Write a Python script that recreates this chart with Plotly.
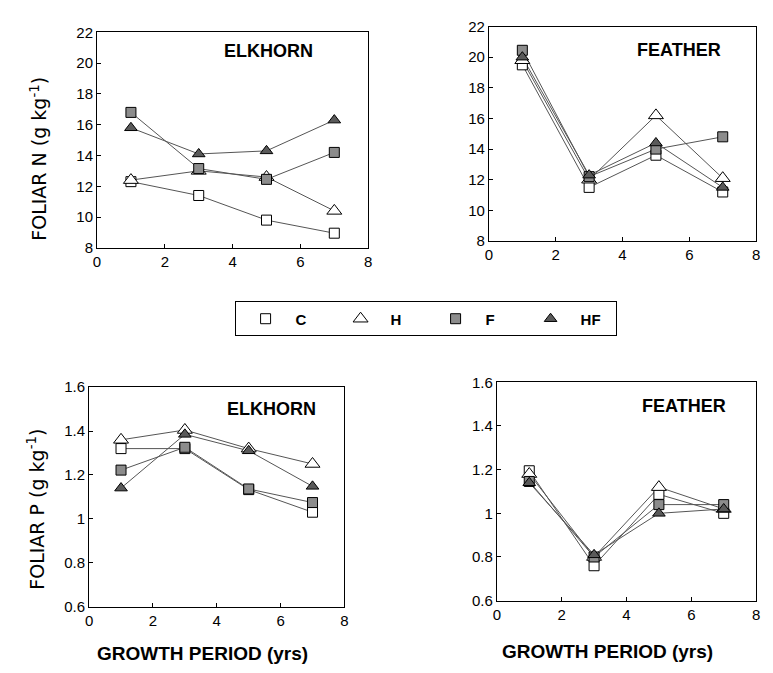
import plotly.graph_objects as go

years = [1, 3, 5, 7]
series = ["C", "H", "F", "HF"]

# Foliar N (g/kg)
elk_N = {
    "C": [12.3, 11.4, 9.8, 8.95],
    "H": [12.4, 13.0, 12.6, 10.4],
    "F": [16.8, 13.15, 12.45, 14.2],
    "HF": [15.8, 14.1, 14.3, 16.3],
}
fea_N = {
    "C": [19.5, 11.5, 13.6, 11.2],
    "H": [19.8, 12.0, 16.2, 12.1],
    "F": [20.45, 12.2, 14.0, 14.8],
    "HF": [20.0, 12.3, 14.4, 11.5],
}
# Foliar P (g/kg)
elk_P = {
    "C": [1.32, 1.32, 1.133, 1.03],
    "H": [1.36, 1.405, 1.32, 1.25],
    "F": [1.222, 1.326, 1.136, 1.074],
    "HF": [1.14, 1.385, 1.31, 1.148],
}
fea_P = {
    "C": [1.195, 0.76, 1.087, 1.0],
    "H": [1.18, 0.80, 1.12, 1.02],
    "F": [1.146, 0.80, 1.04, 1.04],
    "HF": [1.14, 0.81, 1.0, 1.02],
}

styles = {
    "C": dict(symbol="square", color="white", size=10),
    "H": dict(symbol="triangle-up", color="white", size=13),
    "F": dict(symbol="square", color="#8c8c8c", size=10),
    "HF": dict(symbol="triangle-up", color="#5a5a5a", size=11),
}

W, H = 773, 673
def xd(a, b):
    return [a / W, b / W]
def yd(top, bot):
    return [1 - bot / H, 1 - top / H]

fig = go.Figure()
panels = [
    (elk_N, "x", "y", True),
    (fea_N, "x2", "y2", False),
    (elk_P, "x3", "y3", False),
    (fea_P, "x4", "y4", False),
]
# connecting lines first
for data, xa, ya, show in panels:
    for s in series:
        fig.add_trace(go.Scatter(
            x=years, y=data[s], xaxis=xa, yaxis=ya, name=s,
            mode="lines", showlegend=False, hoverinfo="skip",
            line=dict(color="#555555", width=1),
        ))
# markers on top
for data, xa, ya, show in panels:
    for s in series:
        st = styles[s]
        fig.add_trace(go.Scatter(
            x=years, y=data[s], xaxis=xa, yaxis=ya, name=s,
            mode="markers", showlegend=show,
            marker=dict(symbol=st["symbol"], size=st["size"], color=st["color"],
                        line=dict(color="black", width=1)),
        ))

font = dict(family="Liberation Sans, Arial, sans-serif", size=15, color="black")
axcommon = dict(showline=True, linecolor="black", linewidth=1, mirror=True,
                ticks="inside", ticklen=4, tickcolor="black", showgrid=False,
                zeroline=False, tickfont=font, ticklabeloverflow="allow")

fig.update_layout(
    width=W, height=H, margin=dict(l=0, r=0, t=0, b=0),
    paper_bgcolor="white", plot_bgcolor="white",
    font=font,
    xaxis=dict(domain=xd(94, 368), range=[0, 8], dtick=2, anchor="y", **axcommon),
    yaxis=dict(domain=yd(24, 245), range=[8, 22], dtick=2, anchor="x", **axcommon),
    xaxis2=dict(domain=xd(490, 760), range=[0, 8], dtick=2, anchor="y2", **axcommon),
    yaxis2=dict(domain=yd(18, 238), range=[8, 22], dtick=2, anchor="x2", **axcommon),
    xaxis3=dict(domain=xd(86, 344), range=[0, 8], dtick=2, anchor="y3", **axcommon),
    yaxis3=dict(domain=yd(388, 613), range=[0.6, 1.6], dtick=0.2, anchor="x3",
                tickformat="~g", **axcommon),
    xaxis4=dict(domain=xd(498, 760), range=[0, 8], dtick=2, anchor="y4", **axcommon),
    yaxis4=dict(domain=yd(383, 607), range=[0.6, 1.6], dtick=0.2, anchor="x4",
                tickformat="~g", **axcommon),
    legend=dict(orientation="h", x=426 / W, y=1 - 318 / H, xanchor="center",
                yanchor="middle", bordercolor="black", borderwidth=1,
                bgcolor="white", entrywidth=30, entrywidthmode="pixels",
                itemwidth=50,
                font=dict(family="Liberation Sans, Arial, sans-serif", size=15,
                          color="black", weight="bold"),
                itemsizing="trace"),
)

bold = dict(family="Liberation Sans, Arial, sans-serif", size=18, color="black",
            weight="bold")
xtitle = dict(family="Liberation Sans, Arial, sans-serif", size=19, color="black",
              weight="bold")
ytitle = dict(family="DejaVu Sans, sans-serif", size=19, color="black")
annots = [
    (267 / W, 1 - 43 / H, "ELKHORN", 0, bold),
    (682 / W, 1 - 42 / H, "FEATHER", 0, bold),
    (270 / W, 1 - 410 / H, "ELKHORN", 0, bold),
    (687 / W, 1 - 407 / H, "FEATHER", 0, bold),
    (35 / W, 1 - 154 / H, "FOLIAR N (g kg<sup>-1</sup>)", -90, ytitle),
    (32 / W, 1 - 513 / H, "FOLIAR P (g kg<sup>-1</sup>)", -90, ytitle),
    (201 / W, 1 - 661 / H, "GROWTH PERIOD (yrs)", 0, xtitle),
    (610 / W, 1 - 659 / H, "GROWTH PERIOD (yrs)", 0, xtitle),
]
for x, y, t, ang, f in annots:
    fig.add_annotation(x=x, y=y, xref="paper", yref="paper", text=t,
                       showarrow=False, textangle=ang, font=f,
                       xanchor="center", yanchor="middle")

fig.write_html(
    "out.html",
    config={"displayModeBar": False},
    post_script="document.body.style.margin='0';document.body.style.overflow='hidden';",
)
